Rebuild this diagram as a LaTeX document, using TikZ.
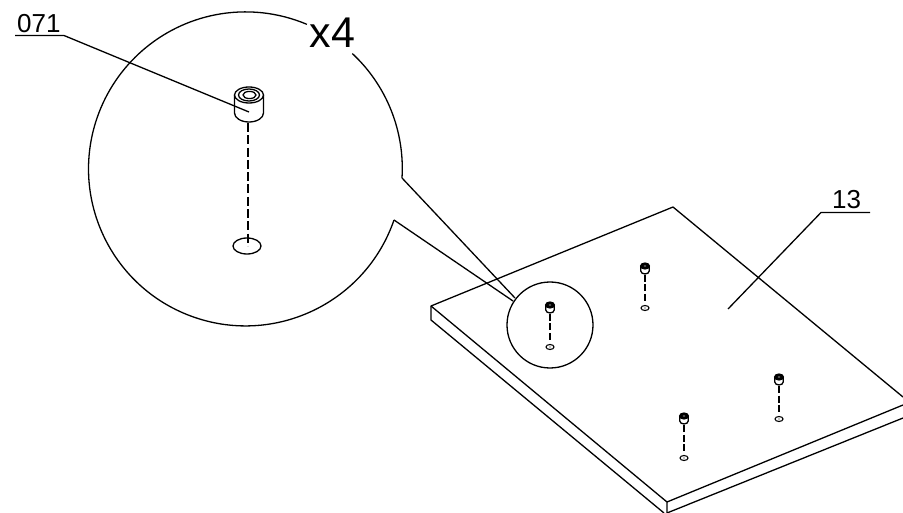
\documentclass[tikz,border=0pt]{standalone}
\usepackage{fontspec}
\usetikzlibrary{shapes.geometric}
\setmainfont{Liberation Sans}
\tikzset{
  ln/.style={line width=1.3pt,black,line join=round},
  thin ln/.style={line width=1.2pt,black},
  label txt/.style={inner sep=0pt,anchor=base west,font=\fontsize{26}{26}\selectfont},
  pics/minibolt/.style={code={
    \draw[line width=1.3pt,fill=white] (-4.2,-3) -- (-4.2,2) arc[start angle=180,end angle=0,x radius=4.2,y radius=3] -- (4.2,-3);
    \draw[line width=1.2pt,fill=black] (0,-3) ellipse[x radius=4.4,y radius=3];
    \fill[white!60!black] (0,-3) ellipse[x radius=1.4,y radius=.7];
    \draw[thin ln,dash pattern=on 7pt off 2.5pt] (0,6) -- (0,34);
    \draw[line width=1.1pt] (0,39) ellipse[x radius=4,y radius=2.5];
    \fill (0,39) circle[radius=.7];
  }}
}
\begin{document}
\begin{tikzpicture}[x=1pt,y=-1pt]
\useasboundingbox (0,0) rectangle (903,513);
% plate
\coordinate (pl) at (431,306);
\coordinate (pb) at (673,207);
\coordinate (pr) at (903,397);
\coordinate (pf) at (667,502);
\coordinate (pfb) at (667,513);
\coordinate (plb) at (431,320);
\draw[ln] (pr) -- (pb) -- (pl) -- (plb) -- (664,513);
\draw[ln] (pl) -- (pf) -- (pfb);
\draw[ln] (pf) -- (903,405);
\draw[ln] (667,513) -- (903,418);
% small circle
\node[draw,circle,line width=1.3pt,minimum size=86pt,inner sep=0pt] (detail) at (550,325) {};
% big circle with gaps
\coordinate (gapa) at (402,178);
\coordinate (gapb) at (394,220);
\draw[ln] (gapa) arc[start angle=3.5,end angle=-47,radius=157];
\draw[ln] (gapb) arc[start angle=19,end angle=293,radius=157];
\coordinate (tipa) at (515,298);
\coordinate (tipb) at (513,301);
\draw[ln] (gapa) -- (tipa);
\draw[ln] (gapb) -- (tipb);
\node[inner sep=0pt,anchor=base west,font=\fontsize{43}{43}\selectfont] (xf) at (309.5,48) {x4};
% large bolt
\draw[ln,fill=white] (234.5,95) -- (234.5,113) arc[start angle=180,end angle=0,x radius=14.5,y radius=9] -- (263.5,95);
\draw[ln,fill=white] (249,95) ellipse[x radius=14.5,y radius=8];
\draw[ln] (249,95) ellipse[x radius=10.5,y radius=6];
\draw[ln] (249.5,95) ellipse[x radius=6.5,y radius=3.6];
\draw[line width=1.4pt,dash pattern=on 9pt off 3.3pt] (247.8,123) -- (247.8,246);
\node[draw,ellipse,line width=1.3pt,minimum width=28pt,minimum height=16pt,inner sep=0pt] (hole) at (247,246) {};
% minis
\pic at (550,308) {minibolt};
\pic at (645,269) {minibolt};
\pic at (684,419) {minibolt};
\pic at (779,380) {minibolt};
% labels
\node[label txt] (a) at (17,33) {071};
\node[label txt] (b) at (832,209) {13};
\coordinate (au) at (15,35.5);
\coordinate (ae) at (64,35.5);
\coordinate (at) at (249,112);
\draw[ln] (au) -- (ae) -- (at);
\coordinate (bu) at (870,212.5);
\coordinate (be) at (821,212.5);
\coordinate (bt) at (728,309);
\draw[ln] (bu) -- (be) -- (bt);
\end{tikzpicture}
\end{document}
